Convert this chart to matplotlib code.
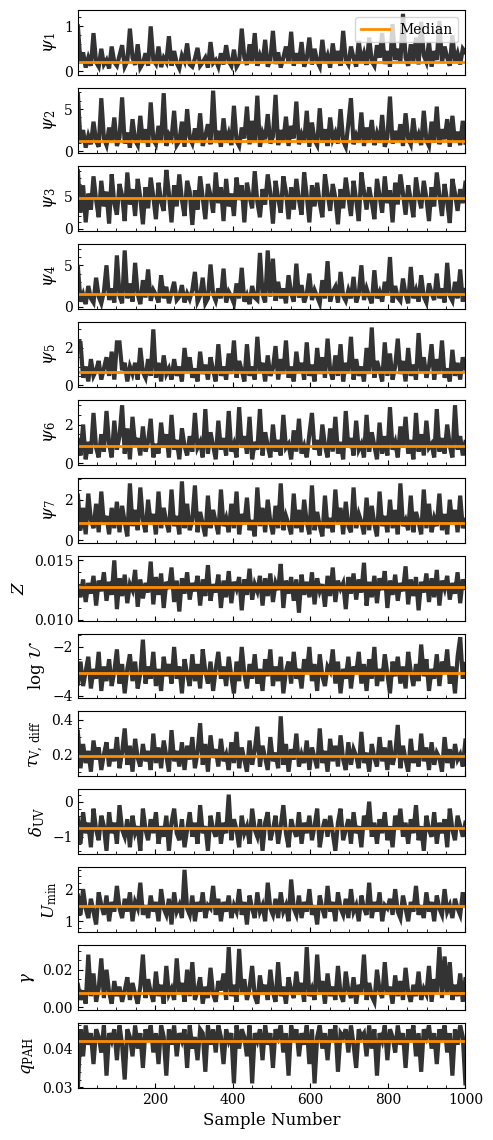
import numpy as np
import matplotlib
matplotlib.use("Agg")
import matplotlib.pyplot as plt
from matplotlib.ticker import AutoMinorLocator, MultipleLocator

# MCMC trace values (one value per ~7 samples)
psi1 = [1.0, 0.18, 0.42, 0.08, 0.3, 0.12, 0.85, 0.2, 0.1, 0.5, 0.15, 0.25, 0.06, 0.55, 0.2,
        0.12, 0.35, 0.58, 0.1, 0.22, 0.95, 0.3, 0.14, 0.6, 0.08, 0.18, 0.4, 0.12, 1.0, 0.25,
        0.16, 0.55, 0.09, 0.3, 0.2, 0.78, 0.12, 0.45, 0.18, 0.06, 0.35, 0.22, 0.62, 0.15, 0.1,
        0.28, 0.52, 0.12, 0.2, 0.3, 0.08, 0.65, 0.18, 0.25, 0.1, 0.4, 0.15, 0.58, 0.22, 0.12,
        0.48, 0.1, 0.2, 0.95, 0.3, 0.14, 0.6, 0.2, 0.85, 0.12, 0.35, 0.18, 0.7, 0.1, 0.25,
        0.9, 0.16, 0.42, 0.08, 0.3, 0.55, 0.2, 0.88, 0.12, 0.4, 0.18, 0.65, 0.1, 0.28, 0.75,
        0.15, 0.5, 0.22, 0.1, 0.7, 0.18, 0.35, 0.08, 0.62, 0.2, 0.45, 0.12, 0.9, 0.25, 0.15,
        0.55, 0.3, 0.1, 0.68, 0.2, 0.4, 0.14, 0.75, 0.22, 0.12, 0.58, 0.3, 0.85, 0.16, 0.45,
        0.1, 1.05, 0.25, 0.5, 0.18, 1.28, 0.3, 0.12, 0.6, 0.22, 0.75, 0.15, 1.1, 0.35, 0.2,
        0.65, 0.1, 0.45, 0.25, 1.12, 0.18, 0.55, 0.3, 0.12, 0.8, 0.22, 0.4, 0.15, 0.5, 0.42]
psi2 = [6.8, 1.0, 2.5, 0.4, 1.8, 0.8, 3.5, 1.2, 0.5, 6.3, 1.5, 0.7, 2.8, 1.1, 4.0,
        0.6, 1.6, 6.4, 0.9, 2.2, 0.4, 3.8, 1.3, 0.7, 4.2, 1.0, 2.6, 0.5, 5.8, 1.4,
        0.8, 3.0, 1.1, 6.9, 0.6, 2.0, 1.5, 4.8, 0.7, 1.2, 3.5, 0.5, 5.0, 1.6, 0.9,
        2.7, 1.1, 4.5, 0.6, 1.8, 3.2, 0.8, 7.2, 1.3, 2.4, 0.5, 3.9, 1.0, 2.1, 0.7,
        5.4, 1.2, 0.6, 2.8, 1.5, 5.3, 0.8, 3.6, 1.1, 6.6, 0.5, 2.2, 1.4, 4.4, 0.9,
        1.7, 6.7, 0.7, 2.5, 1.2, 4.1, 0.6, 3.0, 1.5, 5.9, 0.8, 2.0, 1.1, 4.8, 0.5,
        3.4, 1.3, 0.7, 5.1, 1.0, 2.6, 0.6, 4.0, 1.4, 2.2, 0.9, 5.0, 1.2, 0.5, 3.3,
        6.3, 0.8, 1.9, 1.1, 4.6, 0.6, 2.8, 1.3, 3.7, 0.7, 2.1, 1.0, 4.3, 0.5, 1.6,
        6.5, 0.9, 2.4, 1.2, 3.2, 0.6, 4.5, 1.5, 0.8, 3.9, 1.1, 2.0, 0.7, 4.8, 1.3,
        0.6, 3.5, 1.0, 5.3, 0.8, 2.6, 1.4, 3.8, 0.5, 4.2, 1.1, 2.3, 0.7, 3.6, 1.0]
psi3 = [9.0, 2.5, 6.8, 1.0, 5.5, 3.0, 8.2, 4.5, 1.8, 7.5, 3.5, 5.8, 0.8, 8.5, 4.0,
        2.2, 7.0, 5.2, 1.2, 8.8, 3.8, 6.2, 2.0, 7.8, 4.8, 0.7, 6.5, 3.2, 8.0, 5.0,
        1.5, 7.2, 4.2, 2.8, 9.2, 5.5, 1.0, 6.8, 3.5, 8.5, 4.5, 2.0, 7.5, 5.8, 0.6,
        6.0, 3.0, 8.2, 4.8, 1.5, 7.0, 5.2, 2.5, 8.8, 4.0, 6.5, 1.2, 7.8, 3.5, 5.5,
        2.0, 8.0, 4.5, 6.8, 1.0, 7.2, 5.0, 3.2, 9.0, 4.2, 1.8, 6.2, 3.8, 8.5, 5.5,
        0.8, 7.5, 4.8, 2.5, 8.2, 5.8, 1.5, 6.5, 3.0, 7.8, 4.5, 2.2, 8.8, 5.2, 1.0,
        6.8, 3.5, 7.2, 4.0, 1.8, 8.5, 5.5, 2.8, 7.0, 4.8, 0.7, 6.2, 3.2, 8.0, 5.0,
        2.0, 7.5, 4.5, 1.2, 8.8, 5.8, 3.0, 6.5, 4.2, 1.5, 7.8, 5.2, 2.5, 8.2, 4.0,
        6.0, 1.0, 7.2, 3.8, 8.5, 5.5, 2.2, 6.8, 4.5, 1.8, 8.0, 5.0, 3.2, 7.5, 4.8,
        1.2, 6.5, 3.5, 8.8, 5.2, 2.0, 7.0, 4.2, 0.9, 7.8, 5.5, 2.8, 6.2, 4.0, 7.2]
psi4 = [4.8, 0.6, 1.5, 0.3, 2.5, 1.0, 0.5, 3.5, 1.2, 0.4, 1.8, 5.0, 0.8, 2.2, 0.5,
        6.2, 1.3, 0.4, 6.8, 1.0, 2.8, 0.6, 5.3, 1.5, 0.3, 3.2, 1.1, 4.5, 0.7, 2.0,
        1.4, 0.5, 3.8, 1.0, 2.4, 0.4, 1.7, 3.0, 0.8, 1.2, 2.6, 0.5, 1.6, 0.9, 2.0,
        4.2, 0.6, 1.3, 3.5, 0.4, 1.0, 5.1, 1.5, 0.7, 2.2, 1.0, 4.6, 0.5, 1.8, 1.2,
        0.4, 2.8, 1.0, 4.7, 0.6, 1.4, 0.3, 2.5, 1.1, 0.8, 6.5, 1.5, 0.5, 6.8, 1.2,
        5.8, 0.7, 3.0, 1.0, 2.2, 0.4, 3.8, 1.6, 0.6, 5.2, 1.1, 2.6, 0.5, 1.5, 4.0,
        0.8, 2.0, 1.2, 0.4, 3.2, 1.0, 5.5, 0.6, 1.8, 2.4, 0.5, 4.2, 1.3, 0.7, 2.0,
        1.0, 3.6, 0.5, 1.5, 5.0, 0.8, 2.2, 1.2, 0.4, 4.4, 1.0, 1.8, 0.6, 3.0, 1.4,
        6.0, 0.5, 2.5, 1.1, 0.7, 3.4, 1.5, 0.4, 4.8, 1.0, 2.0, 0.6, 3.8, 1.2, 0.5,
        2.8, 1.6, 0.8, 4.0, 1.0, 2.2, 0.5, 5.3, 1.3, 0.7, 3.0, 1.0, 4.5, 0.6, 2.0]
psi5 = [2.4, 2.3, 0.4, 1.0, 0.2, 1.4, 0.5, 0.8, 1.3, 0.3, 0.9, 1.5, 0.5, 1.8, 0.3,
        2.3, 2.3, 0.8, 1.2, 0.2, 1.0, 0.6, 1.2, 0.3, 2.0, 0.7, 0.4, 1.4, 0.5, 3.0,
        0.4, 1.2, 0.2, 1.6, 0.6, 0.9, 0.3, 1.4, 0.5, 1.0, 0.2, 2.0, 0.7, 1.5, 0.4,
        0.9, 0.2, 1.8, 0.6, 1.1, 0.3, 1.5, 0.8, 0.2, 2.2, 0.5, 1.0, 0.3, 1.7, 0.6,
        2.4, 0.4, 1.3, 0.8, 0.2, 2.2, 0.5, 1.0, 0.3, 2.6, 0.7, 1.2, 0.2, 1.6, 0.5,
        0.9, 2.1, 0.3, 1.4, 0.6, 2.4, 0.4, 1.0, 0.2, 1.8, 0.7, 1.2, 0.3, 2.3, 0.5,
        1.1, 0.2, 2.0, 0.6, 1.5, 0.4, 2.5, 0.8, 0.3, 1.6, 0.5, 2.2, 0.2, 1.2, 0.7,
        2.6, 0.3, 1.4, 0.5, 1.0, 0.2, 2.0, 0.6, 3.1, 0.4, 1.3, 0.8, 0.2, 2.3, 0.5,
        1.7, 0.3, 1.0, 2.5, 0.6, 1.3, 0.2, 2.0, 0.5, 1.1, 0.3, 2.8, 0.7, 1.5, 0.4,
        1.0, 2.2, 0.3, 1.4, 0.6, 2.4, 0.4, 0.9, 0.2, 1.9, 0.5, 1.2, 0.3, 1.5, 0.9]
psi6 = [1.2, 0.4, 2.0, 0.2, 1.1, 0.5, 2.6, 0.8, 0.3, 1.5, 0.6, 2.7, 1.0, 0.3, 2.2,
        0.7, 1.4, 3.0, 0.5, 1.8, 0.2, 2.4, 0.9, 1.3, 0.4, 1.9, 0.6, 1.1, 2.3, 0.3,
        1.0, 0.5, 2.1, 0.8, 1.5, 0.3, 2.5, 0.7, 1.2, 0.2, 1.8, 0.9, 0.4, 1.4, 0.6,
        2.6, 0.8, 1.1, 0.3, 2.8, 0.5, 1.6, 0.9, 0.2, 2.2, 0.7, 1.3, 0.4, 2.7, 0.6,
        1.0, 0.3, 2.9, 0.8, 1.4, 0.5, 2.4, 0.2, 1.1, 0.7, 2.8, 0.4, 1.6, 0.9, 0.3,
        2.0, 0.6, 1.2, 0.4, 2.5, 0.8, 1.0, 0.2, 1.7, 0.6, 2.3, 0.5, 0.9, 0.3, 1.5,
        2.6, 0.7, 1.2, 0.4, 2.0, 0.9, 0.3, 1.8, 0.6, 2.4, 0.5, 1.1, 0.2, 2.7, 0.8,
        1.3, 0.4, 2.2, 0.7, 1.0, 0.3, 2.5, 0.6, 1.6, 0.9, 0.2, 2.1, 0.5, 1.4, 0.4,
        2.9, 0.7, 1.1, 0.3, 1.9, 0.8, 2.4, 0.5, 1.2, 0.2, 2.6, 0.6, 1.5, 0.4, 2.2,
        0.8, 1.0, 0.3, 2.8, 0.6, 1.3, 0.5, 2.0, 0.9, 0.3, 3.0, 0.7, 1.4, 0.4, 1.1]
psi7 = [2.2, 0.5, 1.6, 0.3, 2.3, 1.0, 0.6, 1.8, 0.4, 2.4, 0.8, 1.2, 0.3, 1.6, 0.6,
        1.9, 0.4, 1.7, 0.9, 0.2, 2.8, 0.7, 1.5, 0.5, 2.6, 1.0, 0.4, 2.0, 0.8, 1.3,
        0.3, 2.4, 0.6, 1.6, 0.9, 0.4, 2.5, 0.7, 1.2, 0.3, 2.9, 0.6, 1.8, 0.5, 1.0,
        2.7, 0.4, 1.4, 0.8, 0.2, 2.2, 0.6, 1.5, 0.9, 0.3, 2.5, 0.7, 1.1, 0.4, 1.8,
        0.6, 2.4, 0.3, 1.3, 0.8, 2.1, 0.5, 1.0, 0.2, 2.6, 0.7, 1.6, 0.4, 2.0, 0.9,
        0.3, 1.7, 0.6, 2.8, 0.5, 1.2, 0.8, 0.3, 2.3, 0.6, 1.5, 0.4, 2.0, 0.9, 0.3,
        2.7, 0.5, 1.4, 0.7, 0.2, 2.2, 0.6, 1.1, 0.4, 2.5, 0.8, 1.6, 0.3, 1.9, 0.7,
        0.4, 2.6, 0.6, 1.3, 0.9, 0.3, 2.1, 0.5, 1.7, 0.8, 0.2, 2.4, 0.7, 1.2, 0.4,
        2.0, 0.6, 1.5, 0.3, 2.8, 0.7, 1.0, 0.5, 2.2, 0.4, 1.4, 0.9, 0.3, 2.5, 0.6,
        1.8, 0.4, 1.1, 0.7, 2.3, 0.5, 1.3, 0.3, 2.0, 0.8, 1.5, 0.4, 2.2, 0.6, 1.0]
Z = [0.0128, 0.0119, 0.0134, 0.0115, 0.0131, 0.0122, 0.0137, 0.0112, 0.0133, 0.0124, 0.0140, 0.0116, 0.0132, 0.0121, 0.0150,
     0.0109, 0.0135, 0.0120, 0.0138, 0.0114, 0.0130, 0.0125, 0.0142, 0.0111, 0.0134, 0.0118, 0.0131, 0.0123, 0.0149, 0.0113,
     0.0136, 0.0121, 0.0139, 0.0110, 0.0132, 0.0126, 0.0144, 0.0115, 0.0133, 0.0107, 0.0135, 0.0122, 0.0140, 0.0117, 0.0131,
     0.0124, 0.0137, 0.0112, 0.0134, 0.0120, 0.0146, 0.0116, 0.0130, 0.0123, 0.0138, 0.0110, 0.0133, 0.0119, 0.0141, 0.0114,
     0.0132, 0.0126, 0.0136, 0.0108, 0.0134, 0.0121, 0.0143, 0.0117, 0.0130, 0.0124, 0.0137, 0.0112, 0.0135, 0.0120, 0.0139,
     0.0115, 0.0131, 0.0125, 0.0147, 0.0110, 0.0133, 0.0122, 0.0136, 0.0116, 0.0134, 0.0106, 0.0138, 0.0121, 0.0132, 0.0119,
     0.0140, 0.0113, 0.0135, 0.0124, 0.0130, 0.0111, 0.0137, 0.0120, 0.0144, 0.0115, 0.0133, 0.0126, 0.0131, 0.0109, 0.0136,
     0.0122, 0.0139, 0.0117, 0.0134, 0.0123, 0.0148, 0.0112, 0.0132, 0.0119, 0.0137, 0.0114, 0.0135, 0.0125, 0.0141, 0.0110,
     0.0133, 0.0121, 0.0138, 0.0116, 0.0131, 0.0124, 0.0145, 0.0113, 0.0134, 0.0120, 0.0136, 0.0108, 0.0132, 0.0123, 0.0139,
     0.0115, 0.0135, 0.0119, 0.0142, 0.0112, 0.0133, 0.0126, 0.0137, 0.0117, 0.0131, 0.0122, 0.0140, 0.0114, 0.0134, 0.0127]
logU = [-3.5, -2.6, -3.6, -3.0, -2.4, -3.7, -2.9, -3.3, -2.2, -3.8, -2.8, -3.4, -2.5, -3.6, -3.0,
        -2.1, -3.5, -2.7, -3.9, -2.9, -2.3, -3.4, -2.6, -3.7, -3.1, -1.7, -3.5, -2.8, -3.3, -2.2,
        -3.6, -2.9, -3.8, -2.4, -3.2, -2.7, -3.5, -2.0, -3.3, -2.8, -3.9, -2.5, -3.1, -3.6, -2.3,
        -3.4, -2.7, -3.7, -2.1, -3.0, -3.5, -2.6, -3.8, -2.9, -2.2, -3.3, -2.8, -3.6, -2.4, -3.2,
        -3.9, -2.6, -3.4, -2.0, -3.1, -3.7, -2.7, -3.3, -2.3, -3.5, -2.9, -3.8, -2.5, -3.2, -2.1,
        -3.6, -2.8, -3.4, -2.4, -3.9, -3.0, -2.6, -3.5, -2.2, -3.3, -2.9, -3.7, -2.5, -3.1, -2.0,
        -3.4, -2.7, -3.8, -2.3, -3.2, -3.6, -2.8, -3.0, -2.1, -3.5, -2.6, -3.9, -2.9, -3.3, -2.4,
        -3.7, -2.8, -3.1, -2.2, -3.5, -2.7, -3.8, -2.5, -3.3, -2.0, -3.6, -2.9, -3.4, -2.3, -3.1,
        -3.9, -2.6, -3.2, -2.4, -3.5, -2.8, -3.7, -2.2, -3.0, -3.6, -2.7, -3.4, -1.9, -3.2, -2.5,
        -3.8, -2.9, -3.3, -2.3, -3.6, -2.6, -3.1, -2.1, -3.5, -2.8, -3.9, -2.4, -1.6, -3.3, -2.7]
tau = [0.33, 0.12, 0.26, 0.15, 0.22, 0.10, 0.28, 0.17, 0.24, 0.11, 0.20, 0.27, 0.13, 0.23, 0.16,
       0.30, 0.12, 0.21, 0.35, 0.14, 0.25, 0.10, 0.29, 0.18, 0.13, 0.26, 0.16, 0.22, 0.11, 0.32,
       0.15, 0.24, 0.12, 0.28, 0.19, 0.10, 0.34, 0.16, 0.22, 0.13, 0.27, 0.11, 0.25, 0.17, 0.30,
       0.12, 0.21, 0.38, 0.14, 0.26, 0.10, 0.31, 0.18, 0.23, 0.13, 0.29, 0.16, 0.20, 0.11, 0.27,
       0.15, 0.33, 0.12, 0.24, 0.17, 0.10, 0.28, 0.14, 0.22, 0.36, 0.13, 0.25, 0.18, 0.11, 0.30,
       0.16, 0.21, 0.12, 0.42, 0.14, 0.26, 0.10, 0.23, 0.17, 0.32, 0.13, 0.20, 0.15, 0.28, 0.11,
       0.24, 0.18, 0.12, 0.35, 0.15, 0.22, 0.10, 0.29, 0.16, 0.25, 0.13, 0.31, 0.17, 0.11, 0.27,
       0.14, 0.23, 0.19, 0.12, 0.33, 0.15, 0.21, 0.10, 0.26, 0.18, 0.13, 0.30, 0.16, 0.24, 0.11,
       0.28, 0.14, 0.20, 0.37, 0.12, 0.25, 0.17, 0.10, 0.29, 0.15, 0.22, 0.13, 0.32, 0.16, 0.24,
       0.11, 0.27, 0.14, 0.21, 0.18, 0.10, 0.30, 0.15, 0.23, 0.12, 0.26, 0.17, 0.20, 0.13, 0.28]
delta_uv = [-0.5, -1.2, -0.3, -0.9, -0.6, -1.3, -0.2, -0.8, -1.1, -0.4, -0.7, -1.4, -0.3, -0.9, -0.6,
            -1.2, -0.1, -0.8, -1.0, -0.5, -1.3, -0.4, -0.9, -0.7, -1.4, -0.2, -0.8, -1.1, -0.5, -0.9,
            -0.3, -1.2, -0.7, -1.0, -0.4, -1.4, -0.6, -0.2, -0.9, -1.1, -0.5, -1.3, -0.8, -0.3, -1.0,
            -0.6, -1.2, -0.1, -0.9, -0.7, -1.4, -0.4, -0.8, -1.0, -0.3, -1.2, -0.6, -0.9, 0.2, -1.1,
            -0.5, -0.8, -1.3, -0.4, -0.9, -0.7, -1.2, -0.2, -0.8, -1.0, -0.5, -1.4, -0.6, -0.3, -1.1,
            -0.8, -0.4, -1.2, -0.7, -0.1, -0.9, -1.3, -0.5, -0.8, -1.0, -0.3, -1.2, -0.6, -0.9, -0.4,
            -1.1, -0.7, -0.2, -1.3, -0.8, -0.5, -1.0, -0.4, -0.9, -1.4, -0.6, -0.2, -1.1, -0.8, -0.5,
            -1.2, -0.3, -0.9, -0.7, -1.3, -0.4, -0.8, 0.0, -1.0, -0.6, -1.2, -0.5, -0.9, -0.3, -1.1,
            -0.7, -1.3, -0.4, -0.8, -0.2, -1.0, -0.6, -1.2, -0.5, -0.9, -0.1, -1.1, -0.7, -1.4, -0.4,
            -0.8, -1.0, -0.3, -1.2, -0.6, -0.9, -0.5, -1.3, -0.2, -0.8, -1.1, -0.4, -0.7, -1.0, -0.6]
umin = [1.8, 1.2, 2.0, 1.4, 1.1, 1.7, 1.3, 0.9, 1.9, 1.5, 1.2, 1.8, 1.0, 1.6, 1.3,
        2.1, 1.4, 1.1, 1.7, 1.3, 1.9, 1.0, 1.6, 1.4, 2.2, 1.2, 1.5, 1.1, 1.8, 1.3,
        1.6, 1.0, 2.0, 1.4, 1.2, 1.7, 0.9, 1.9, 1.3, 1.5, 1.1, 2.6, 1.4, 1.2, 1.8,
        1.0, 1.6, 1.3, 1.9, 1.1, 1.5, 1.4, 2.1, 1.2, 1.7, 1.0, 1.6, 1.3, 1.8, 1.1,
        1.5, 1.3, 2.0, 1.2, 1.6, 0.9, 1.8, 1.4, 1.1, 1.9, 1.3, 1.5, 1.0, 2.2, 1.4,
        1.2, 1.7, 1.1, 1.9, 1.3, 1.5, 1.0, 2.3, 1.4, 1.2, 1.8, 1.1, 1.6, 1.3, 2.0,
        1.2, 1.5, 0.9, 1.8, 1.4, 1.1, 2.1, 1.3, 1.6, 1.0, 1.9, 1.4, 1.2, 1.7, 1.1,
        2.0, 1.3, 1.5, 1.0, 1.8, 1.4, 1.2, 2.2, 1.1, 1.6, 1.3, 1.9, 1.0, 1.5, 1.4,
        1.7, 1.2, 2.0, 1.3, 1.1, 1.8, 1.4, 1.0, 1.6, 1.3, 2.1, 1.2, 1.5, 1.1, 1.9,
        1.3, 1.6, 1.0, 1.8, 1.4, 1.2, 2.0, 1.3, 1.5, 1.1, 1.7, 1.4, 1.2, 1.9, 1.5]
gamma = [0.012, 0.004, 0.009, 0.002, 0.028, 0.006, 0.018, 0.003, 0.010, 0.026, 0.005, 0.020, 0.008, 0.002, 0.014,
         0.006, 0.011, 0.003, 0.009, 0.016, 0.004, 0.013, 0.007, 0.002, 0.011, 0.028, 0.005, 0.015, 0.008, 0.003,
         0.019, 0.006, 0.012, 0.002, 0.022, 0.007, 0.010, 0.004, 0.026, 0.008, 0.013, 0.003, 0.020, 0.006, 0.024,
         0.004, 0.009, 0.016, 0.002, 0.011, 0.005, 0.021, 0.007, 0.003, 0.014, 0.009, 0.018, 0.004, 0.032, 0.006,
         0.012, 0.003, 0.031, 0.008, 0.015, 0.004, 0.010, 0.022, 0.006, 0.002, 0.017, 0.007, 0.012, 0.004, 0.020,
         0.008, 0.003, 0.024, 0.006, 0.011, 0.002, 0.016, 0.009, 0.005, 0.019, 0.007, 0.013, 0.003, 0.032, 0.006,
         0.010, 0.004, 0.028, 0.008, 0.014, 0.002, 0.018, 0.006, 0.011, 0.004, 0.022, 0.007, 0.003, 0.019, 0.009,
         0.005, 0.016, 0.002, 0.012, 0.008, 0.028, 0.004, 0.013, 0.006, 0.003, 0.020, 0.009, 0.005, 0.024, 0.007,
         0.011, 0.002, 0.017, 0.006, 0.014, 0.004, 0.021, 0.008, 0.003, 0.012, 0.006, 0.019, 0.004, 0.010, 0.007,
         0.022, 0.003, 0.015, 0.008, 0.032, 0.005, 0.027, 0.007, 0.024, 0.004, 0.012, 0.006, 0.018, 0.003, 0.015]
qpah = [0.030, 0.045, 0.038, 0.046, 0.041, 0.044, 0.036, 0.045, 0.043, 0.039, 0.046, 0.033, 0.044, 0.042, 0.045,
        0.037, 0.046, 0.041, 0.032, 0.045, 0.043, 0.038, 0.046, 0.040, 0.044, 0.035, 0.045, 0.042, 0.046, 0.039,
        0.044, 0.036, 0.046, 0.043, 0.033, 0.045, 0.041, 0.046, 0.038, 0.044, 0.042, 0.045, 0.035, 0.046, 0.040,
        0.043, 0.037, 0.045, 0.044, 0.034, 0.046, 0.041, 0.045, 0.039, 0.046, 0.043, 0.036, 0.045, 0.042, 0.044,
        0.031, 0.046, 0.040, 0.045, 0.043, 0.038, 0.046, 0.031, 0.044, 0.042, 0.045, 0.037, 0.046, 0.041, 0.044,
        0.035, 0.045, 0.043, 0.046, 0.039, 0.044, 0.033, 0.046, 0.042, 0.045, 0.038, 0.044, 0.041, 0.046, 0.036,
        0.045, 0.031, 0.043, 0.046, 0.040, 0.044, 0.037, 0.045, 0.042, 0.046, 0.034, 0.044, 0.043, 0.045, 0.039,
        0.046, 0.041, 0.035, 0.045, 0.043, 0.044, 0.038, 0.046, 0.040, 0.045, 0.033, 0.044, 0.042, 0.046, 0.037,
        0.045, 0.043, 0.039, 0.046, 0.041, 0.044, 0.035, 0.045, 0.042, 0.046, 0.038, 0.044, 0.034, 0.045, 0.043,
        0.046, 0.040, 0.044, 0.036, 0.045, 0.042, 0.046, 0.039, 0.044, 0.033, 0.045, 0.041, 0.046, 0.043, 0.031]

traces = [psi1, psi2, psi3, psi4, psi5, psi6, psi7, Z, logU, tau, delta_uv, umin, gamma, qpah]
medians = [0.2, 1.2, 4.8, 1.57, 0.69, 0.87, 0.85, 0.0128, -3.07, 0.19, -0.76, 1.47, 0.0078, 0.0419]
labels = [r"$\psi_1$", r"$\psi_2$", r"$\psi_3$", r"$\psi_4$", r"$\psi_5$", r"$\psi_6$", r"$\psi_7$",
          r"$Z$", r"$\log\,\mathcal{U}$", r"$\tau_{\mathrm{V,\,diff}}$", r"$\delta_{\mathrm{UV}}$",
          r"$U_{\mathrm{min}}$", r"$\gamma$", r"$q_{\mathrm{PAH}}$"]
ylims = [(-0.09, 1.36), (-0.25, 7.5), (-0.35, 9.8), (-0.28, 7.58), (-0.09, 3.4), (-0.08, 3.28),
         (-0.11, 3.08), (0.00994, 0.0154), (-4.11, -1.45), (0.073, 0.448), (-1.5, 0.35),
         (0.66, 2.68), (-0.0014, 0.033), (0.0298, 0.0466)]
major_steps = [1, 5, 5, 5, 2, 2, 2, 0.005, 2, 0.2, 1, 1, 0.02, 0.01]

plt.rcParams["font.family"] = "DejaVu Serif"
plt.rcParams["mathtext.fontset"] = "dejavuserif"

fig, axes = plt.subplots(len(traces), 1, figsize=(4.93, 11.4), dpi=100, sharex=True)
fig.subplots_adjust(left=0.158, right=0.944, top=0.991, bottom=0.0456, hspace=0.2)

for i, ax in enumerate(axes):
    vals = traces[i]
    x = np.linspace(1, 1000, len(vals))
    ax.plot(x, vals, color="#333333", lw=3.0, solid_joinstyle="miter")
    ax.axhline(medians[i], color="darkorange", lw=2, label="Median")
    ax.set_xlim(1, 1000)
    ax.set_ylim(*ylims[i])
    ax.yaxis.set_major_locator(MultipleLocator(major_steps[i]))
    ax.yaxis.set_minor_locator(AutoMinorLocator())
    ax.xaxis.set_major_locator(MultipleLocator(200))
    ax.xaxis.set_minor_locator(MultipleLocator(50))
    ax.tick_params(which="both", direction="in", labelsize=10)
    ax.set_ylabel(labels[i], fontsize=12)

axes[0].legend(loc="upper right", fontsize=10)
axes[-1].set_xlabel("Sample Number", fontsize=12)

fig.savefig("out.png", dpi=100)
